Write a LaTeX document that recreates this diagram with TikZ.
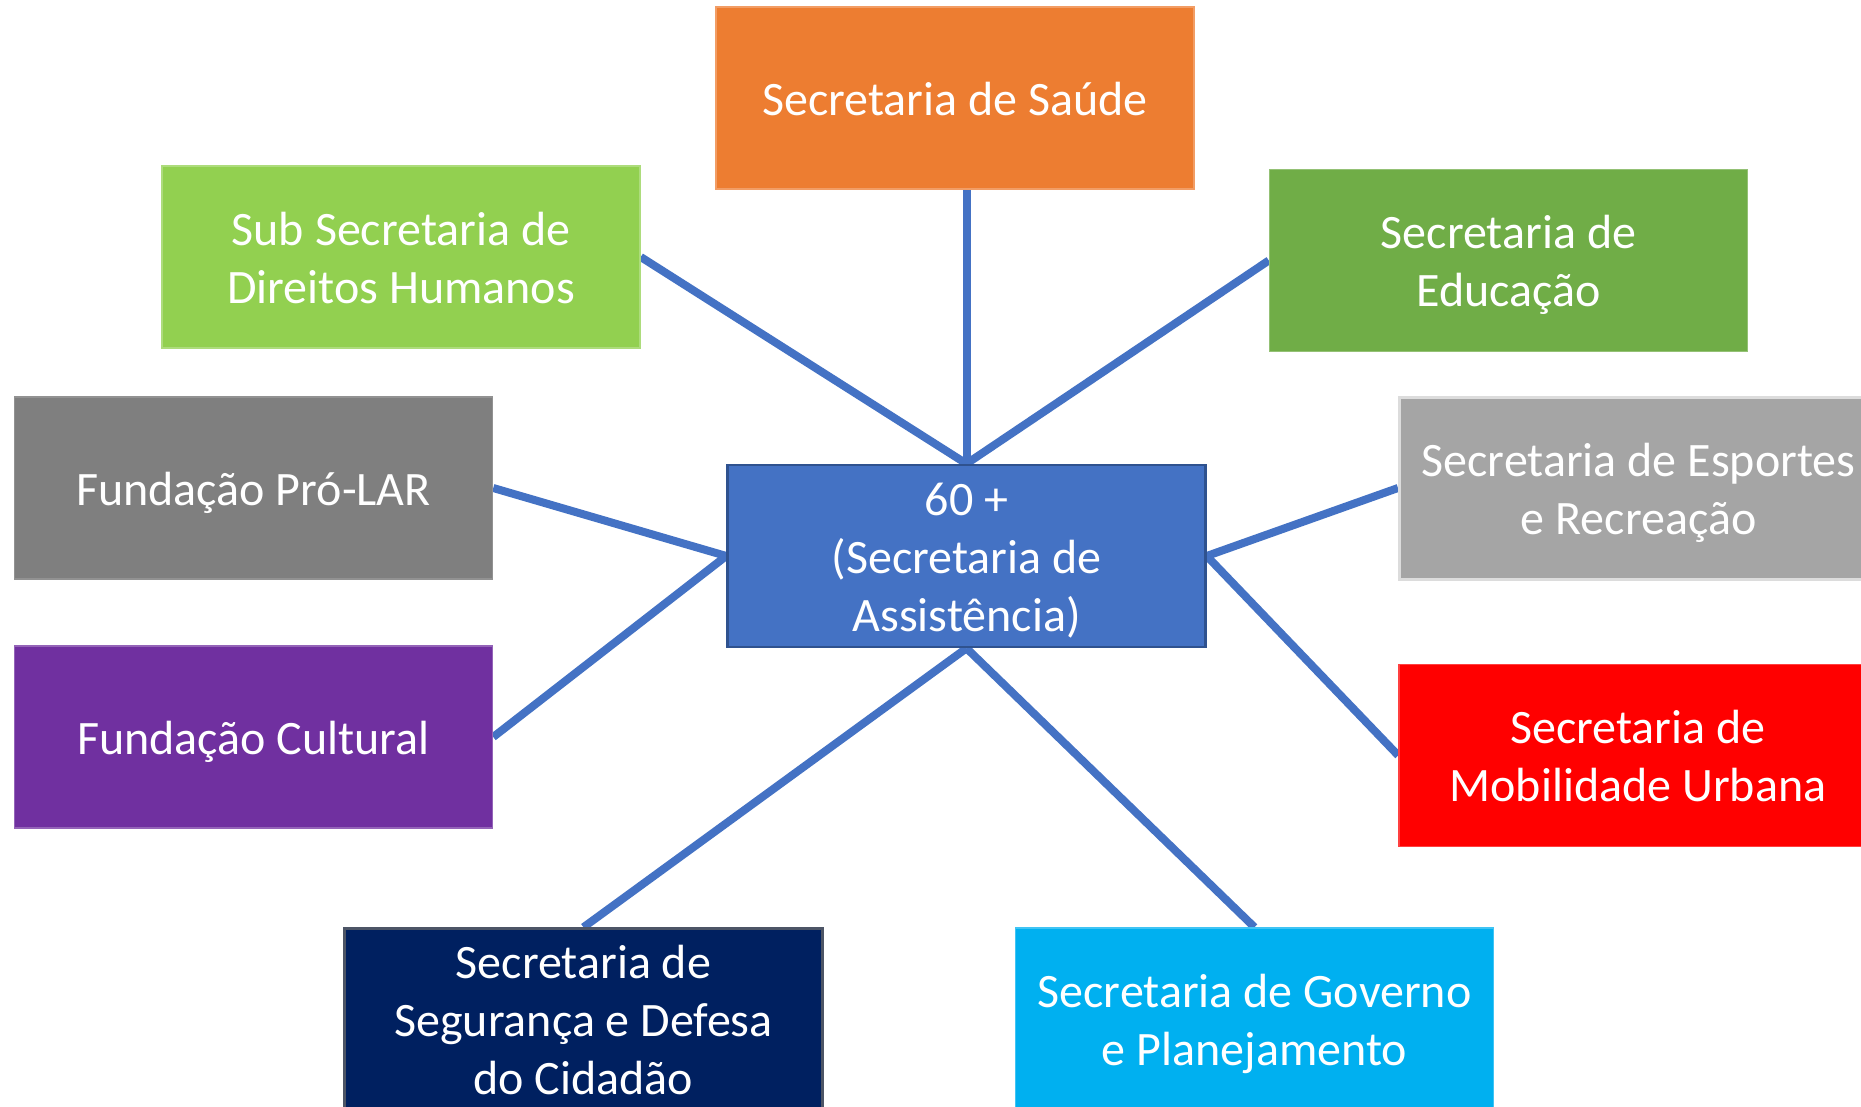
\documentclass[tikz,border=0pt]{standalone}
\usepackage{fontspec}
\setmainfont{Carlito}
\usetikzlibrary{backgrounds}
\definecolor{cSaude}{HTML}{ED7D31}
\definecolor{cSub}{HTML}{92D050}
\definecolor{cEduc}{HTML}{70AD47}
\definecolor{cLar}{HTML}{7F7F7F}
\definecolor{cCenter}{HTML}{4472C4}
\definecolor{cCenterB}{HTML}{2F528F}
\definecolor{cEsp}{HTML}{A5A5A5}
\definecolor{cEspB}{HTML}{DCDCDC}
\definecolor{cCult}{HTML}{7030A0}
\definecolor{cMob}{HTML}{FF0000}
\definecolor{cSeg}{HTML}{002060}
\definecolor{cSegB}{HTML}{4D5566}
\definecolor{cGov}{HTML}{00B0F0}
\definecolor{cLine}{HTML}{4472C4}
\newcommand\ls{\rule[-0.2\baselineskip]{0pt}{\baselineskip}}
\tikzset{
  orgbox/.style={rectangle, minimum width=478pt, minimum height=182pt, inner sep=0pt,
    align=center, text=white, font=\fontsize{48}{58}\selectfont, line width=1.5pt},
  link/.style={draw=cLine, line width=8pt}
}
\begin{document}
\begin{tikzpicture}[x=1pt,y=-1pt]
\useasboundingbox (0,0) rectangle (1861,1107);
\clip (0,0) rectangle (1861,1107);
\node[orgbox, fill=cSaude, draw=cSaude!75!white] (saude) at (955,98) {\ls Secretaria de Saúde};
\node[orgbox, fill=cSub, draw=cSub!75!white] (sub) at (401,257) {\ls Sub Secretaria de\\\ls Direitos Humanos};
\node[orgbox, fill=cEduc, draw=cEduc!75!white] (educ) at (1508.5,260.5) {\ls Secretaria de\\\ls Educação};
\node[orgbox, fill=cLar, draw=cLar!85!white] (lar) at (253.5,488) {\ls Fundação Pró-LAR};
\node[orgbox, fill=cCenter, draw=cCenterB, line width=2.5pt] (center) at (966.5,556) {\ls 60 +\\\ls (Secretaria de\\\ls Assistência)};
\node[orgbox, fill=cEsp, draw=cEspB, line width=3pt] (esp) at (1638.5,488) {\ls Secretaria de Esportes\\\ls e Recreação};
\node[orgbox, fill=cCult, draw=cCult!75!white] (cult) at (253.5,737) {\ls Fundação Cultural};
\node[orgbox, fill=cMob, draw=cMob!75!white] (mob) at (1638,755.5) {\ls Secretaria de\\\ls Mobilidade Urbana};
\node[orgbox, fill=cSeg, draw=cSegB, line width=2.5pt] (seg) at (583.5,1019.5) {\ls Secretaria de\\\ls Segurança e Defesa\\\ls do Cidadão};
\node[orgbox, fill=cGov, draw=cGov!75!white] (gov) at (1254.5,1019) {\ls Secretaria de Governo\\\ls e Planejamento};
\begin{scope}[on background layer]
\fill[white] (0,0) rectangle (1861,1107);
\draw[link] (center.north) -- (center.north |- saude.south);
\draw[link] (center.north) -- (sub.east);
\draw[link] (center.north) -- (educ.west);
\draw[link] (center.west) -- (lar.east);
\draw[link] (center.west) -- (cult.east);
\draw[link] (center.east) -- (esp.west);
\draw[link] (center.east) -- (mob.west);
\draw[link] (center.south) -- (seg.north);
\draw[link] (center.south) -- (gov.north);
\end{scope}
\end{tikzpicture}
\end{document}
